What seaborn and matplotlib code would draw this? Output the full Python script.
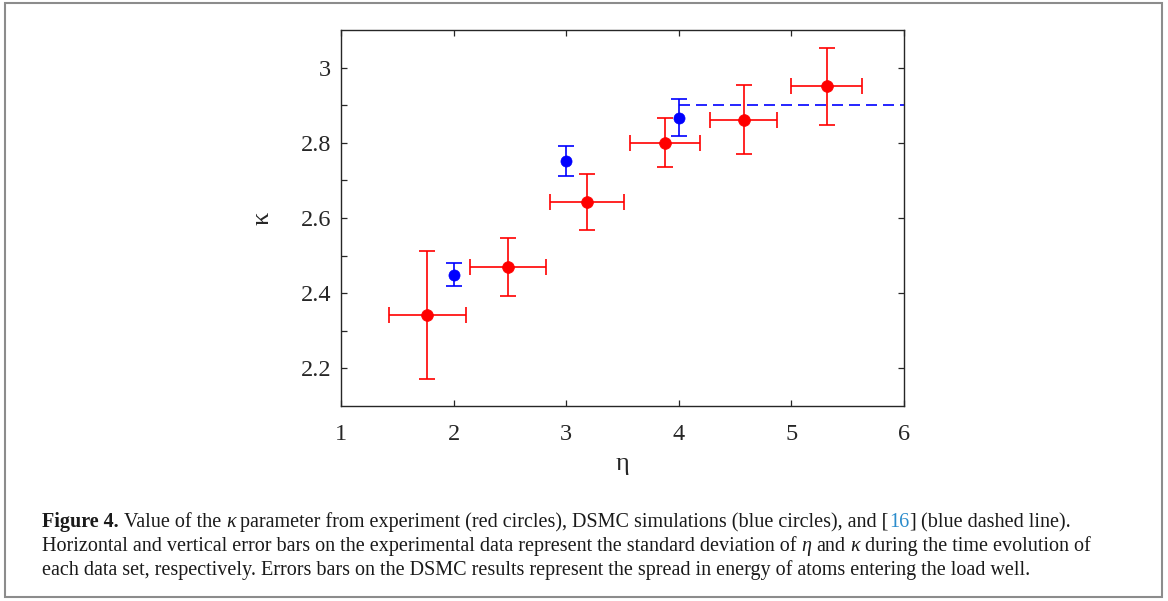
import matplotlib
matplotlib.use("Agg")
import matplotlib.pyplot as plt
import seaborn as sns
import numpy as np
import pandas as pd
from matplotlib.ticker import FixedLocator
from matplotlib.patches import Rectangle

# ---------------- data ----------------
exp_eta = [1.767, 2.484, 3.184, 3.880, 4.578, 5.313]
exp_kappa = [2.342, 2.470, 2.643, 2.800, 2.861, 2.950]
exp_eta_err = [0.339, 0.338, 0.332, 0.310, 0.298, 0.313]
exp_kappa_err = [0.170, 0.078, 0.075, 0.065, 0.092, 0.102]

sim_eta = [2.0, 3.0, 4.0]
sim_kappa = [2.449, 2.751, 2.867]
sim_kappa_err = [0.031, 0.040, 0.049]

theory_eta = [4.0, 6.0]
theory_kappa = [2.9, 2.9]

x_ticks = [1, 2, 3, 4, 5, 6]
x_tick_labels = ["1", "2", "3", "4", "5", "6"]
y_ticks = [2.2, 2.4, 2.6, 2.8, 3.0]
y_tick_labels = ["2.2", "2.4", "2.6", "2.8", "3"]
y_minor_ticks = [2.3, 2.5, 2.7, 2.9]

x_label = "η"
y_label = "κ"

# ---------------- style ----------------
sns.set_style("white")
plt.rcParams["font.family"] = ["Liberation Serif", "DejaVu Serif"]
plt.rcParams["axes.edgecolor"] = "#262626"
plt.rcParams["axes.linewidth"] = 1.0

W, H = 1168, 601
DPI = 100
fig = plt.figure(figsize=(W / DPI, H / DPI), dpi=DPI)
fig.patch.set_facecolor("white")

ax_l, ax_r, ax_t, ax_b = 341, 904, 30, 406
ax = fig.add_axes([ax_l / W, 1 - ax_b / H, (ax_r - ax_l) / W, (ax_b - ax_t) / H])
ax.set_facecolor("white")

RED = "#ff0000"
BLUE = "#0000ff"

exp_df = pd.DataFrame({"eta": exp_eta, "kappa": exp_kappa})
sim_df = pd.DataFrame({"eta": sim_eta, "kappa": sim_kappa})
th_df = pd.DataFrame({"eta": theory_eta, "kappa": theory_kappa})

# theory dashed line
sns.lineplot(data=th_df, x="eta", y="kappa", ax=ax, color=BLUE, linewidth=1.2,
             dashes=False, zorder=2)
ax.lines[-1].set_dashes((6.6, 3.6))

# error bars
ax.errorbar(exp_eta, exp_kappa, xerr=exp_eta_err, yerr=exp_kappa_err, fmt="none",
            ecolor=RED, elinewidth=1.2, capsize=6.0, capthick=1.2, zorder=3)
ax.errorbar(sim_eta, sim_kappa, yerr=sim_kappa_err, fmt="none",
            ecolor=BLUE, elinewidth=1.2, capsize=5.6, capthick=1.2, zorder=3)

# markers
sns.scatterplot(data=exp_df, x="eta", y="kappa", ax=ax, color=RED, s=72,
                edgecolor=RED, linewidth=0.5, zorder=4, legend=False)
sns.scatterplot(data=sim_df, x="eta", y="kappa", ax=ax, color=BLUE, s=64,
                edgecolor=BLUE, linewidth=0.5, zorder=4, legend=False)

ax.set_xlim(1, 6)
ax.set_ylim(2.1, 3.1)
ax.set_xticks(x_ticks)
ax.set_xticklabels(x_tick_labels)
ax.set_yticks(y_ticks)
ax.set_yticklabels(y_tick_labels)
ax.yaxis.set_minor_locator(FixedLocator(y_minor_ticks))

ax.tick_params(axis="both", which="major", direction="in", top=True, right=True,
               bottom=True, left=True, length=4.5, width=0.9, color="#262626",
               labelsize=17.5, labelcolor="#262626")
ax.tick_params(axis="x", which="major", pad=13)
ax.tick_params(axis="y", which="major", pad=7)
ax.tick_params(axis="y", which="minor", direction="in", left=True, right=False,
               length=4.5, width=0.9, color="#262626")

for sp in ax.spines.values():
    sp.set_visible(True)
    sp.set_color("#262626")
    sp.set_linewidth(1.0)

ax.set_xlabel(x_label, fontsize=19, color="#262626")
ax.set_ylabel(y_label, fontsize=19, color="#262626")
ax.xaxis.label.set_verticalalignment("baseline")
ax.xaxis.set_label_coords(0.5, -(470 - ax_b) / (ax_b - ax_t))
ax.yaxis.set_label_coords(-(ax_l - 274) / (ax_r - ax_l), 0.5)

# ---------------- figure border ----------------
fig.patches.append(Rectangle((5 / W, 1 - 597 / H), (1162 - 5) / W, (597 - 3) / H,
                             transform=fig.transFigure, fill=False,
                             edgecolor="#8c8c8c", linewidth=1.5, zorder=0))

# ---------------- caption ----------------
renderer = fig.canvas.get_renderer()
LINK = "#2b8ccc"
R, B, I, L = "r", "b", "i", "l"

line1 = [("Figure 4.", B), (" ", R), ("Value of the", R), (" ", R), ("κ", I), (" ", R),
         ("parameter from experiment (red circles), DSMC simulations (blue circles), and [", R),
         ("16", L), ("]", R), (" ", R), ("(blue dashed line).", R)]
line2 = [("Horizontal and vertical error bars on the experimental data represent the standard deviation of", R),
         (" ", R), ("η", I), (" ", R), ("and", R), (" ", R), ("κ", I), (" ", R),
         ("during the time evolution of", R)]
line3 = [("each data set, respectively. Errors bars on the DSMC results represent the spread in energy of atoms entering the load well.", R)]


def style_kw(st):
    kw = dict(fontfamily=["Liberation Serif", "DejaVu Serif"], color="#1a1a1a")
    if st == B:
        kw["fontweight"] = "bold"
    if st == I:
        kw["fontstyle"] = "italic"
    if st == L:
        kw["color"] = LINK
    return kw


def space_width(size):
    t1 = fig.text(0, 0, "a a", fontsize=size, **style_kw(R))
    t2 = fig.text(0, 0, "aa", fontsize=size, **style_kw(R))
    w = t1.get_window_extent(renderer).width - t2.get_window_extent(renderer).width
    t1.remove()
    t2.remove()
    return w


def draw_line(runs, x0, baseline, size, draw=True):
    x = x0
    sw = space_width(size)
    for txt, st in runs:
        if txt == " ":
            x += sw
            continue
        t = fig.text(x / W, 1 - baseline / H, txt, fontsize=size, ha="left",
                     va="baseline", **style_kw(st))
        x += t.get_window_extent(renderer).width
        if not draw:
            t.remove()
    return x - x0


cap_x0 = 42
target = 1073 - cap_x0
w10 = draw_line(line1, cap_x0, 527, 10, draw=False)
cap_size = 10 * target / w10

draw_line(line1, cap_x0, 527, cap_size)
draw_line(line2, cap_x0, 551, cap_size)
draw_line(line3, cap_x0, 575, cap_size)

fig.savefig("out.png", dpi=DPI, facecolor="white")
